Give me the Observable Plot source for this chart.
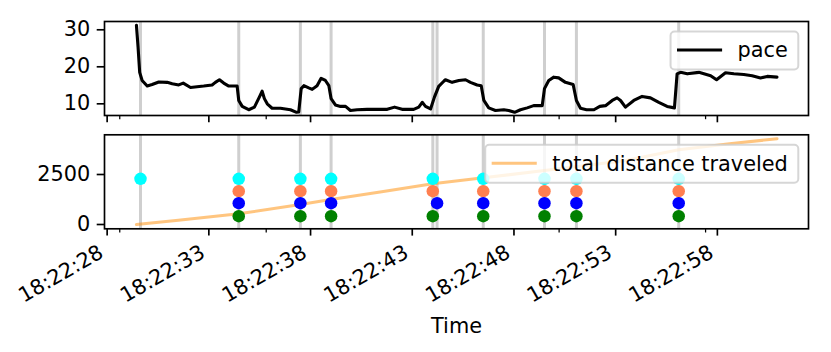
<!DOCTYPE html>
<html><head><meta charset="utf-8">
<script src="https://cdn.jsdelivr.net/npm/d3@7"></script>
<script src="https://cdn.jsdelivr.net/npm/@observablehq/plot@0.6"></script>
<style>
body{margin:0;background:#fff;}
#chart{position:relative;width:831px;height:352px;overflow:hidden;background:#fff;}
#chart svg{position:absolute;left:0;overflow:visible;}
</style></head><body><div id="chart"></div>
<script>
// ---- data (seconds after 18:22:00) ----
const paceTimes = [29.44,29.52,29.60,29.72,29.97,30.21,30.54,30.95,31.20,31.52,31.74,32.10,32.42,32.75,33.16,33.32,33.52,33.73,33.98,34.39,34.47,34.64,34.96,35.24,35.50,35.62,35.73,35.87,36.11,36.52,37.01,37.31,37.42,37.54,37.67,37.91,38.08,38.32,38.52,38.73,38.90,39.01,39.22,39.47,39.72,39.96,40.29,40.78,41.27,41.77,42.13,42.50,43.07,43.32,43.49,43.65,43.90,44.09,44.30,44.55,44.63,44.96,45.29,45.62,45.86,46.19,46.39,46.52,46.76,47.09,47.50,47.74,48.03,48.32,48.65,48.97,49.39,49.50,49.71,49.96,50.20,50.53,50.91,51.07,51.27,51.57,51.93,52.22,52.50,52.83,53.07,53.24,53.48,53.89,54.30,54.71,55.12,55.53,55.89,56.02,56.19,56.52,57.09,57.67,57.96,58.40,58.81,59.30,59.71,60.12,60.45,60.93];
const paceValues = [31.2,25.3,18.5,16.3,14.8,15.2,15.9,15.8,15.4,15.1,15.6,14.4,14.6,14.8,15.1,15.8,16.5,15.6,14.8,14.8,10.9,9.3,8.4,9.1,12.0,13.4,11.4,10.0,8.8,8.8,8.4,7.7,7.8,14.1,14.9,14.3,13.9,14.9,16.9,16.3,14.9,11.4,9.7,9.3,9.3,8.2,8.4,8.5,8.5,8.5,9.1,8.5,8.5,9.1,10.4,9.3,8.6,11.8,14.7,16.1,16.5,15.8,16.3,16.5,15.8,15.1,14.9,10.9,8.9,8.2,8.4,8.2,7.7,8.4,8.9,9.5,9.5,14.1,16.3,17.2,17.0,15.8,15.2,10.9,8.8,8.4,8.4,9.3,9.5,10.9,11.6,10.9,9.1,10.9,12.0,11.6,10.4,9.3,8.9,18.1,18.5,18.1,18.5,17.6,16.5,18.4,18.1,17.9,17.6,17.0,17.4,17.2];

const distTimes = [29.44,31.5,34.47,37.5,39.0,41.5,44.0,46.5,49.5,51.1,53.5,56.1,58.6,60.93];
const distValues = [0,210,535,1000,1250,1640,2035,2335,2700,2900,3200,3740,4035,4290];

const eventTimes = [29.64,34.47,37.50,39.01,44.01,44.22,46.49,49.50,51.07,56.10];
const cyanTimes  = [29.64,34.47,37.50,39.01,44.01,46.49,49.50,51.07,56.10];
const coralTimes = [34.47,37.50,39.01,44.01,46.49,49.50,51.07,56.10];
const blueTimes  = [34.47,37.50,39.01,44.22,46.49,49.50,51.07,56.10];
const greenTimes = [34.47,37.50,39.01,44.01,46.49,49.50,51.07,56.10];
const cyanLevel = 2285, coralLevel = 1665, blueLevel = 1065, greenLevel = 415;

const tickLabels = ["18:22:28","18:22:33","18:22:38","18:22:43","18:22:48","18:22:53","18:22:58"];
const minorTicks = [28.62,35.82,50.22,57.42];
const paceTicks = [10,20,30];
const distTicks = [0,2500];

// ---- helpers ----
const base = Date.UTC(1900,0,1,18,22,0);
const T = s => new Date(base + s*1000);
const parse = d3.utcParse("%H:%M:%S");
const majorDates = tickLabels.map(parse);
const minorDates = minorTicks.map(T);
const xDomain = [T(27.87), T(62.48)];
const font = "DejaVu Sans";
const FS = 20.83;

const pace = paceTimes.map((t,i)=>({t:T(t), v:paceValues[i]}));
const dist = distTimes.map((t,i)=>({t:T(t), v:distValues[i]}));
const events = eventTimes.map(T);
const dots = [
  ...cyanTimes.map(t=>({t:T(t), v:cyanLevel, c:"cyan"})),
  ...coralTimes.map(t=>({t:T(t), v:coralLevel, c:"coral"})),
  ...blueTimes.map(t=>({t:T(t), v:blueLevel, c:"blue"})),
  ...greenTimes.map(t=>({t:T(t), v:greenLevel, c:"green"}))
];

const W = 831, ML = 104, MR = 23;
const common = {
  width: W, marginLeft: ML, marginRight: MR,
  style: {fontFamily: font, fontSize: FS + "px", background: "transparent", color: "black"}
};
const xAxes = () => [
  Plot.axisX({ticks: majorDates, tickSize: 7.3, tickFormat: () => "", label: null, strokeWidth: 1.67}),
  Plot.axisX({ticks: minorDates, tickSize: 4.2, tickFormat: () => "", label: null, strokeWidth: 1.25})
];
const yAxis = ticks => Plot.axisY({ticks, tickSize: 7.3, tickPadding: 7, tickFormat: d => String(d), label: null, fontSize: FS, strokeWidth: 1.67});

const topH = 125, topMT = 21, topMB = 10;
const topPlot = Plot.plot({
  ...common, height: topH, marginTop: topMT, marginBottom: topMB,
  x: {type: "utc", domain: xDomain},
  y: {domain: [6.84, 32.24]},
  marks: [
    Plot.ruleX(events, {x: d=>d, stroke: "gray", strokeOpacity: 0.38, strokeWidth: 3}),
    Plot.line(pace, {x: "t", y: "v", stroke: "black", strokeWidth: 3.1}),
    yAxis(paceTicks),
    ...xAxes(),
    Plot.frame({stroke: "black", strokeWidth: 1.67})
  ]
});

const botTop = 125, botH = 227, botMT = 9.3, botMB = 123.7;
const bottomPlot = Plot.plot({
  ...common, height: botH, marginTop: botMT, marginBottom: botMB,
  x: {type: "utc", domain: xDomain},
  y: {domain: [-215, 4485]},
  color: {type: "identity"},
  marks: [
    Plot.ruleX(events, {x: d=>d, stroke: "gray", strokeOpacity: 0.38, strokeWidth: 3}),
    Plot.line(dist, {x: "t", y: "v", stroke: "#ff8c00", strokeOpacity: 0.5, strokeWidth: 3.1}),
    Plot.dot(dots, {x: "t", y: "v", fill: "c", r: 6.25, stroke: null}),
    yAxis(distTicks),
    ...xAxes(),
    Plot.text(majorDates, {x: d=>d, text: (d,i)=>tickLabels[i], frameAnchor: "bottom", textAnchor: "end", lineAnchor: "bottom", rotate: -30, dx: -2.3, dy: 27.5, fontSize: FS}),
    Plot.text(["Time"], {frameAnchor: "bottom", lineAnchor: "bottom", dy: 103.7, fontSize: FS}),
    Plot.frame({stroke: "black", strokeWidth: 1.67})
  ]
});

const chart = document.getElementById("chart");
topPlot.style.top = "0px";
bottomPlot.style.top = botTop + "px";
chart.appendChild(topPlot);
chart.appendChild(bottomPlot);

function addLegend(svg, frameTop, frameRight, label, color, opacity) {
  const g = d3.select(svg).append("g").attr("font-family", font).attr("font-size", FS);
  const boxTop = frameTop + 10.5, boxH = 38, boxRight = frameRight - 9.7;
  const rect = g.append("rect");
  const lineY = boxTop + 18.5;
  const text = g.append("text").attr("text-anchor", "end")
    .attr("x", boxRight - 10.5).attr("y", lineY + 7.3).attr("fill", "black").text(label);
  const tw = text.node().getComputedTextLength();
  const boxLeft = boxRight - 10.5 - tw - 67;
  rect.attr("x", boxLeft).attr("y", boxTop).attr("width", boxRight - boxLeft).attr("height", boxH)
    .attr("rx", 4).attr("fill", "white").attr("fill-opacity", 0.8)
    .attr("stroke", "#cccccc").attr("stroke-opacity", 0.8).attr("stroke-width", 2);
  g.insert("line", "text").attr("x1", boxLeft + 8).attr("x2", boxLeft + 50).attr("y1", lineY).attr("y2", lineY)
    .attr("stroke", color).attr("stroke-opacity", opacity).attr("stroke-width", 3.1).attr("stroke-linecap", "square");
}
addLegend(topPlot, topMT, W - MR, "pace", "black", 1);
addLegend(bottomPlot, botMT, W - MR, "total distance traveled", "#ff8c00", 0.5);
</script></body></html>
